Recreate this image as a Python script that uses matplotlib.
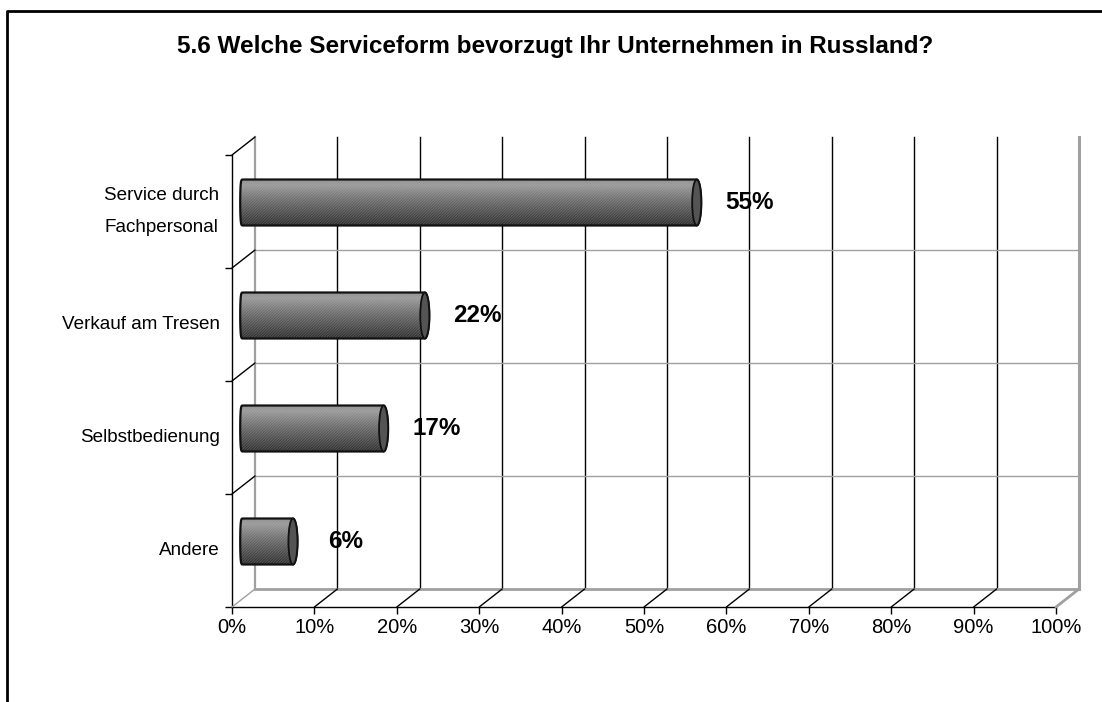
import matplotlib
matplotlib.use("Agg")
import matplotlib.pyplot as plt
import numpy as np
from matplotlib.colors import LinearSegmentedColormap
from matplotlib.lines import Line2D
from matplotlib.patches import Ellipse, PathPatch
from matplotlib.path import Path
from matplotlib.transforms import ScaledTranslation

plt.rcParams["font.family"] = ["Liberation Sans", "DejaVu Sans"]
plt.rcParams["hatch.linewidth"] = 0.5

TITLE = "5.6 Welche Serviceform bevorzugt Ihr Unternehmen in Russland?"
categories = ["Service durch\nFachpersonal", "Verkauf am Tresen", "Selbstbedienung", "Andere"]
values = [55, 22, 17, 6]
x_ticks = list(range(0, 101, 10))
x_tick_labels = [f"{t}%" for t in x_ticks]

DPI = 100
DEPTH_PX = (23, 18)          # offset of the back wall against the front plane
BAR_HALF = 0.2035            # half bar height in category units
CAP_RX = 0.55                # half width of the right end cap, in % units
LEFT_RX = 0.4                # bulge of the flat left end
GRID_DARK = "#000000"
GRID_GRAY = "#a0a0a0"

fig = plt.figure(figsize=(11.02, 7.02), dpi=DPI)
ax = fig.add_axes([232 / 1102, 1 - 607 / 702, (1056 - 232) / 1102, (607 - 155) / 702])
ax.set_facecolor("none")


def depth_trans(frac):
    dx, dy = DEPTH_PX
    return ax.transData + ScaledTranslation(frac * dx / DPI, frac * dy / DPI, fig.dpi_scale_trans)


back = depth_trans(1.0)
mid = depth_trans(0.5)
n = len(categories)
y_lo, y_hi = -0.5, n - 0.5
bounds = np.arange(n + 1) - 0.5


def depth_line(x, y, color, lw=1.0):
    ax.annotate("", xy=(x, y), xycoords="data", xytext=DEPTH_PX, textcoords="offset pixels",
                arrowprops=dict(arrowstyle="-", color=color, lw=lw, shrinkA=0, shrinkB=0),
                annotation_clip=False)


# back wall
for t in x_ticks[1:-1]:
    ax.plot([t, t], [y_lo, y_hi], color=GRID_DARK, lw=1.0, transform=back, clip_on=False, zorder=1)
ax.plot([0, 0], [y_lo, y_hi], color=GRID_GRAY, lw=1.6, transform=back, clip_on=False, zorder=1)
ax.plot([100, 100], [y_lo, y_hi], color=GRID_GRAY, lw=2.2, transform=back, clip_on=False, zorder=1)
for b in bounds[1:-1]:
    ax.plot([0, 100], [b, b], color=GRID_GRAY, lw=1.0, transform=back, clip_on=False, zorder=1)
ax.plot([0, 100], [y_hi, y_hi], color=GRID_GRAY, lw=2.0, transform=back, clip_on=False, zorder=1)

# floor and left wall
for t in x_ticks:
    depth_line(t, y_hi, GRID_GRAY if t in (0, 100) else GRID_DARK, lw=2.0 if t == 100 else 1.0)
for b in bounds[:-1]:
    depth_line(0, b, GRID_DARK)

# cylinders
cmap = LinearSegmentedColormap.from_list(
    "cyl", [(0.0, "#8c8c8c"), (0.12, "#9a9a9a"), (0.45, "#6e6e6e"), (1.0, "#2e2e2e")])
grad = np.linspace(0, 1, 64).reshape(-1, 1)
theta = np.linspace(-np.pi / 2, np.pi / 2, 40)

for i, v in enumerate(values):
    top, bot = i - BAR_HALF, i + BAR_HALF
    right = np.column_stack([v + CAP_RX * np.cos(theta), i + BAR_HALF * np.sin(theta)])
    # flattened left end: near-vertical edge with rounded corners
    s = np.sign(np.cos(theta)) * np.abs(np.cos(theta)) ** 0.35
    left = np.column_stack([-LEFT_RX * s[::-1], i + BAR_HALF * np.sin(theta[::-1])])
    verts = np.concatenate([[[0, top]], right, [[0, bot]], left])
    path = Path(verts)
    body = PathPatch(path, facecolor="none", edgecolor="none", transform=mid)
    ax.add_patch(body)
    im = ax.imshow(grad, cmap=cmap, aspect="auto", extent=(-LEFT_RX, v + CAP_RX, bot, top),
                   transform=mid, zorder=3, interpolation="bilinear")
    im.set_clip_path(body)
    ax.add_patch(PathPatch(path, facecolor="none", edgecolor=(0.8, 0.8, 0.8, 0.28),
                           hatch="/" * 12, lw=0, transform=mid, zorder=4))
    ax.add_patch(PathPatch(path, facecolor="none", edgecolor="#111111", lw=1.6,
                           transform=mid, zorder=5))
    ax.add_patch(Ellipse((v, i), 2 * CAP_RX, 2 * BAR_HALF, facecolor="#545454",
                         edgecolor="#111111", lw=1.3, transform=mid, zorder=6))
    ax.annotate(f"{v}%", xy=(v, i), xycoords=mid, xytext=(53, 0), textcoords="offset pixels",
                ha="center", va="center", fontsize=17.5, fontweight="bold", zorder=7,
                annotation_clip=False)

ax.set_xlim(0, 100)
ax.set_ylim(y_hi, y_lo)
ax.spines[["top", "right"]].set_visible(False)
for s in ("left", "bottom"):
    ax.spines[s].set_linewidth(1.0)
    ax.spines[s].set_zorder(2)

ax.set_xticks(x_ticks, x_tick_labels)
ax.tick_params(axis="x", length=5, width=1, pad=3, labelsize=14.5)
ax.set_yticks(bounds, [""] * len(bounds))
ax.set_yticks(range(n), categories, minor=True)
ax.tick_params(axis="y", which="major", length=5, width=1)
ax.tick_params(axis="y", which="minor", length=0, pad=9, labelsize=13.6)
for lbl in ax.get_yticklabels(minor=True):
    lbl.set_multialignment("center")
    lbl.set_verticalalignment("center")
    lbl.set_linespacing(2.1)

fig.text(555 / 1102, 1 - 46 / 702, TITLE, ha="center", va="center", fontsize=17.5,
         fontweight="bold")

# outer chart frame (left and top edges only)
fig.add_artist(Line2D([7 / 1102, 7 / 1102, 1.0], [0.0, 1 - 11 / 702, 1 - 11 / 702],
                      color="black", lw=2, transform=fig.transFigure))

fig.savefig("out.png", dpi=DPI)
